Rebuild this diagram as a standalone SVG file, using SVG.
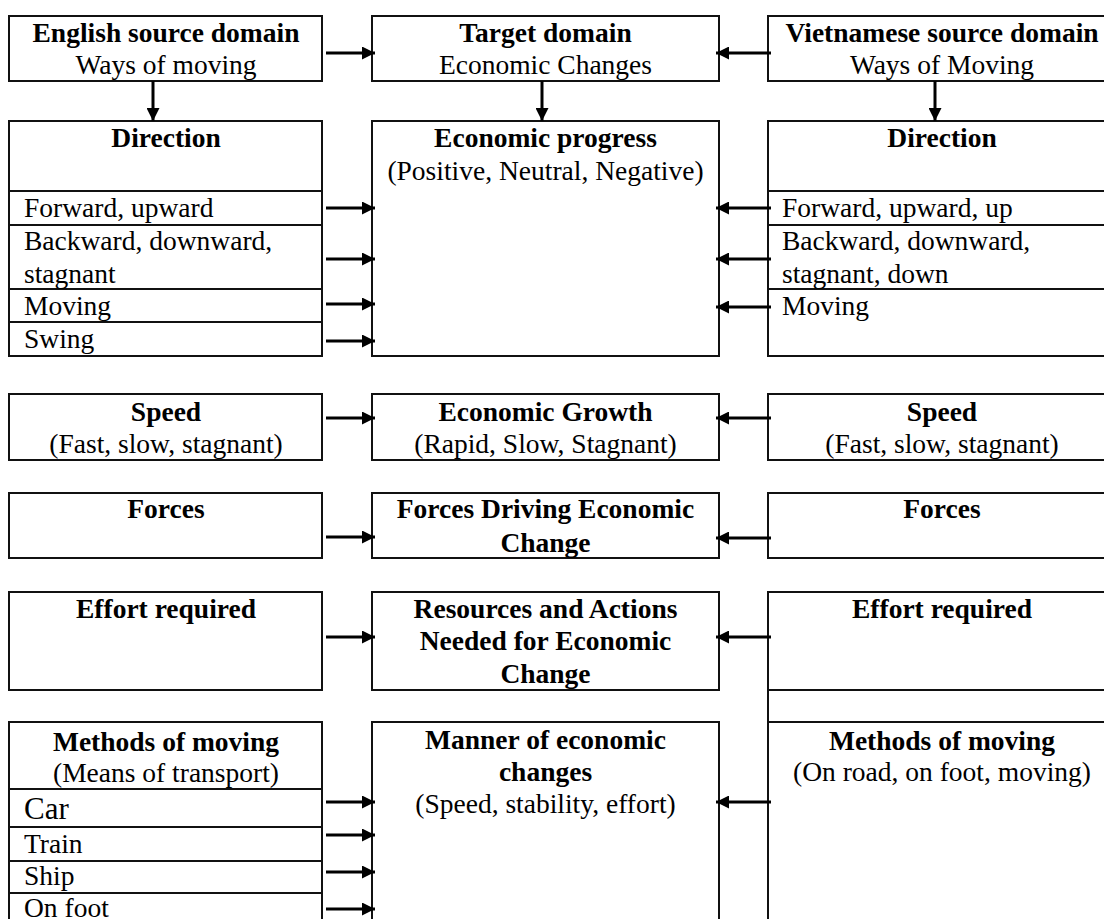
<svg xmlns="http://www.w3.org/2000/svg" width="1104" height="919" viewBox="0 0 1104 919">
<defs>
<style>
.box{fill:#fff;stroke:#111;stroke-width:2}
.div{stroke:#111;stroke-width:2;fill:none}
.b{font-family:"Liberation Serif","Times New Roman",serif;font-weight:bold;font-size:27.5px;fill:#000;text-anchor:middle}
.r{font-family:"Liberation Serif","Times New Roman",serif;font-size:27.5px;fill:#000;text-anchor:middle}
.l{font-family:"Liberation Serif","Times New Roman",serif;font-size:27.5px;fill:#000}
.conn line{stroke:#000;stroke-width:3;marker-end:url(#ah)}
</style>
<marker id="ah" markerUnits="userSpaceOnUse" markerWidth="14" markerHeight="13" refX="13" refY="6.5" orient="auto">
<path d="M0,0 L13,6.5 L0,13 z" fill="#000"/>
</marker>
</defs>
<rect width="1104" height="919" fill="#fff"/>

<g id="english-source">
<rect class="box" x="9" y="16" width="313" height="65"/>
<text class="b" x="166" y="42">English source domain</text>
<text class="r" x="166" y="74">Ways of moving</text>
</g>
<g id="target-domain">
<rect class="box" x="372" y="16" width="347" height="65"/>
<text class="b" x="545.5" y="42">Target domain</text>
<text class="r" x="545.5" y="74">Economic Changes</text>
</g>
<g id="vietnamese-source">
<rect class="box" x="768" y="16" width="348" height="65"/>
<text class="b" x="942" y="42">Vietnamese source domain</text>
<text class="r" x="942" y="74">Ways of Moving</text>
</g>

<g id="english-direction">
<rect class="box" x="9" y="121" width="313" height="235"/>
<path class="div" d="M9,191H322M9,225H322M9,289H322M9,322H322"/>
<text class="b" x="166" y="147">Direction</text>
<text class="l" x="24" y="217">Forward, upward</text>
<text class="l" x="24" y="250">Backward, downward,</text>
<text class="l" x="24" y="283">stagnant</text>
<text class="l" x="24" y="315">Moving</text>
<text class="l" x="24" y="348">Swing</text>
</g>
<g id="economic-progress">
<rect class="box" x="372" y="121" width="347" height="235"/>
<text class="b" x="545.5" y="147">Economic progress</text>
<text class="r" x="545.5" y="180">(Positive, Neutral, Negative)</text>
</g>
<g id="vietnamese-direction">
<rect class="box" x="768" y="121" width="348" height="235"/>
<path class="div" d="M768,191H1116M768,225H1116M768,289H1116"/>
<text class="b" x="942" y="147">Direction</text>
<text class="l" x="782" y="217">Forward, upward, up</text>
<text class="l" x="782" y="250">Backward, downward,</text>
<text class="l" x="782" y="283">stagnant, down</text>
<text class="l" x="782" y="315">Moving</text>
</g>

<g id="english-speed">
<rect class="box" x="9" y="394" width="313" height="66"/>
<text class="b" x="166" y="421">Speed</text>
<text class="r" x="166" y="453">(Fast, slow, stagnant)</text>
</g>
<g id="economic-growth">
<rect class="box" x="372" y="394" width="347" height="66"/>
<text class="b" x="545.5" y="421">Economic Growth</text>
<text class="r" x="545.5" y="453">(Rapid, Slow, Stagnant)</text>
</g>
<g id="vietnamese-speed">
<rect class="box" x="768" y="394" width="348" height="66"/>
<text class="b" x="942" y="421">Speed</text>
<text class="r" x="942" y="453">(Fast, slow, stagnant)</text>
</g>

<g id="english-forces">
<rect class="box" x="9" y="493" width="313" height="65"/>
<text class="b" x="166" y="518">Forces</text>
</g>
<g id="forces-driving">
<rect class="box" x="372" y="493" width="347" height="65"/>
<text class="b" x="545.5" y="518">Forces Driving Economic</text>
<text class="b" x="545.5" y="552">Change</text>
</g>
<g id="vietnamese-forces">
<rect class="box" x="768" y="493" width="348" height="65"/>
<text class="b" x="942" y="518">Forces</text>
</g>

<g id="english-effort">
<rect class="box" x="9" y="592" width="313" height="98"/>
<text class="b" x="166" y="618">Effort required</text>
</g>
<g id="resources-actions">
<rect class="box" x="372" y="592" width="347" height="98"/>
<text class="b" x="545.5" y="618">Resources and Actions</text>
<text class="b" x="545.5" y="650">Needed for Economic</text>
<text class="b" x="545.5" y="683">Change</text>
</g>
<g id="vietnamese-effort">
<rect class="box" x="768" y="592" width="348" height="98"/>
<text class="b" x="942" y="618">Effort required</text>
</g>

<g id="english-methods">
<rect class="box" x="9" y="722" width="313" height="210"/>
<path class="div" d="M9,789H322M9,827H322M9,861H322M9,893H322"/>
<text class="b" x="166" y="751">Methods of moving</text>
<text class="r" x="166" y="782">(Means of transport)</text>
<text class="l" x="24" y="819" style="font-size:31px">Car</text>
<text class="l" x="24" y="853">Train</text>
<text class="l" x="24" y="885">Ship</text>
<text class="l" x="24" y="917">On foot</text>
</g>
<g id="manner-changes">
<rect class="box" x="372" y="722" width="347" height="210"/>
<text class="b" x="545.5" y="749">Manner of economic</text>
<text class="b" x="545.5" y="781">changes</text>
<text class="r" x="545.5" y="813">(Speed, stability, effort)</text>
</g>
<g id="vietnamese-methods">
<rect class="box" x="768" y="690" width="348" height="32"/>
<rect class="box" x="768" y="722" width="348" height="210"/>
<text class="b" x="942" y="750">Methods of moving</text>
<text class="r" x="942" y="781">(On road, on foot, moving)</text>
</g>

<g id="connectors" class="conn">
<line x1="326" y1="53" x2="375" y2="53"/>
<line x1="771" y1="53" x2="716" y2="53"/>
<line x1="153" y1="81" x2="153" y2="121"/>
<line x1="542" y1="81" x2="542" y2="121"/>
<line x1="935" y1="81" x2="935" y2="121"/>
<line x1="326" y1="208" x2="375" y2="208"/>
<line x1="326" y1="259" x2="375" y2="259"/>
<line x1="326" y1="304" x2="375" y2="304"/>
<line x1="326" y1="341" x2="375" y2="341"/>
<line x1="771" y1="208" x2="716" y2="208"/>
<line x1="771" y1="259" x2="716" y2="259"/>
<line x1="771" y1="307" x2="716" y2="307"/>
<line x1="326" y1="418" x2="375" y2="418"/>
<line x1="771" y1="418" x2="716" y2="418"/>
<line x1="326" y1="537" x2="375" y2="537"/>
<line x1="771" y1="538" x2="716" y2="538"/>
<line x1="326" y1="637" x2="375" y2="637"/>
<line x1="771" y1="637" x2="716" y2="637"/>
<line x1="326" y1="802" x2="375" y2="802"/>
<line x1="326" y1="835" x2="375" y2="835"/>
<line x1="326" y1="872" x2="375" y2="872"/>
<line x1="326" y1="909" x2="375" y2="909"/>
<line x1="771" y1="802" x2="716" y2="802"/>
</g>
</svg>
